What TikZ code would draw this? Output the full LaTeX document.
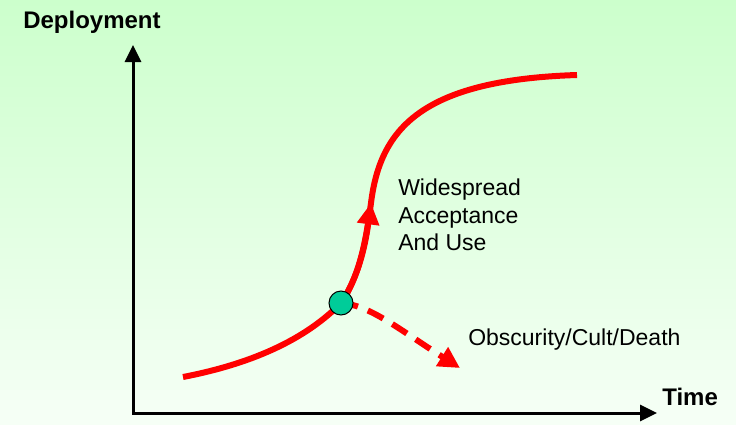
\documentclass[tikz,border=0pt]{standalone}
\usepackage{fontspec}
\setmainfont{Liberation Sans}
\usetikzlibrary{arrows.meta}
\definecolor{bgtop}{RGB}{204,255,204}
\definecolor{bgbottom}{RGB}{246,255,246}
\definecolor{dotfill}{RGB}{0,204,153}
\tikzset{
	% axes with heads at both free ends
	axes/.style={
		draw=black, line width=2.25pt,
		{Triangle[length=12.75pt,width=12pt]}-{Triangle[length=12.75pt,width=12pt]}
	},
	% red growth curve
	growth/.style={
		draw=red, line width=4.5pt
	},
	% head on the growth curve
	curvehead/.style={
		-{Triangle[length=16pt,width=16pt]}
	},
	% bold axis labels
	axislabel/.style={
		font=\bfseries\fontsize{18}{20}\selectfont,
		inner sep=0pt, anchor=base west
	},
	% plain text next to the curve
	curvelabel/.style={
		font=\fontsize{17.25}{20.6}\selectfont,
		inner sep=0pt, align=left
	}
}

\begin{document}
\begin{tikzpicture}[x=0.75pt, y=-0.75pt]
	% background
	\shade[top color=bgtop, bottom color=bgbottom] (0,0) rectangle (736,425);
	\useasboundingbox (0,0) rectangle (736,425);

	% axes
	\coordinate (ytip) at (133,45);
	\coordinate (origin) at (133,413);
	\coordinate (xtip) at (657,413);
	\draw[axes] (ytip) -- (origin) -- (xtip);
	\node[axislabel] (ylabel) at (23,28) {Deployment};
	\node[axislabel] (xlabel) at (662,405) {Time};

	% curve points
	\coordinate (start) at (183,377);
	\coordinate (split) at (341,303);
	\coordinate (rise) at (371,203);
	\coordinate (top) at (577,75);
	\coordinate (fade) at (460,368);

	\draw[growth] (start) .. controls (240,366) and (300,345) .. (split)
		.. controls (360,275) and (366,240) .. (rise)
		.. controls (380,130) and (420,80) .. (top);
	% head half way up
	\draw[growth,curvehead] (split) .. controls (360,275) and (366,240) .. (rise);
	\draw[growth,curvehead,dash pattern=on 13pt off 8pt]
		(split) .. controls (370,305) and (400,330) .. (fade);

	\node[circle,fill=dotfill,draw=black,line width=0.75pt,
		minimum size=18pt,inner sep=0pt] (fork) at (split) {};

	% labels
	\node[curvelabel,anchor=north west] (accept) at (398,179)
		{Widespread\\Acceptance\\And Use};
	\node[curvelabel,anchor=base west] (obscure) at (468,345)
		{Obscurity/Cult/Death};
\end{tikzpicture}
\end{document}
